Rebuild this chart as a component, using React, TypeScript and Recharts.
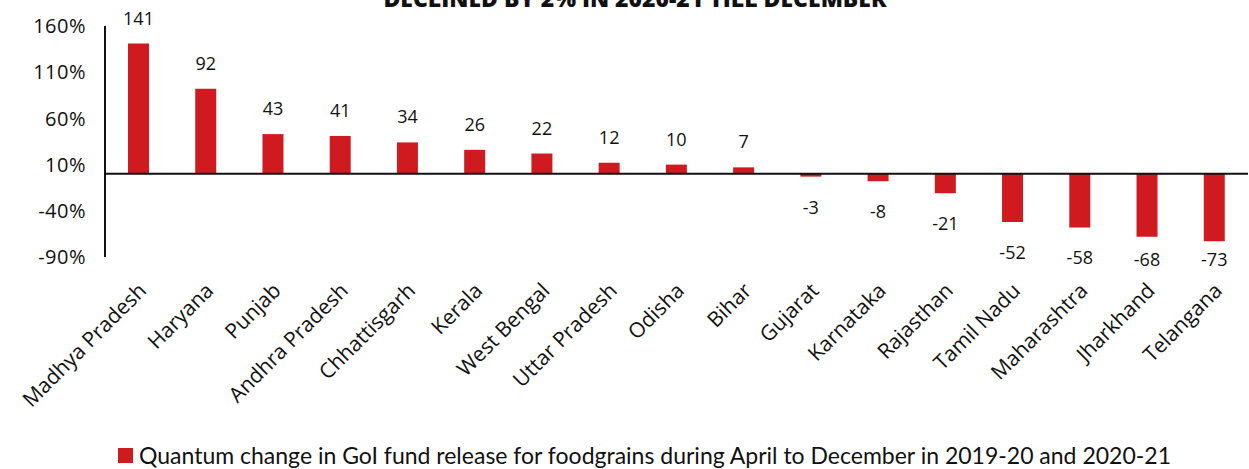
import React from 'react';
import { BarChart, Bar, XAxis, YAxis, ReferenceLine, LabelList } from 'recharts';

const states = [
  'Madhya Pradesh', 'Haryana', 'Punjab', 'Andhra Pradesh', 'Chhattisgarh', 'Kerala',
  'West Bengal', 'Uttar Pradesh', 'Odisha', 'Bihar', 'Gujarat', 'Karnataka',
  'Rajasthan', 'Tamil Nadu', 'Maharashtra', 'Jharkhand', 'Telangana',
];
const change = [141, 92, 43, 41, 34, 26, 22, 12, 10, 7, -3, -8, -21, -52, -58, -68, -73];
const yTicks = [-90, -40, 10, 60, 110, 160];

const title = 'DECLINED BY 2% IN 2020-21 TILL DECEMBER';
const legendText = 'Quantum change in GoI fund release for foodgrains during April to December in 2019-20 and 2020-21';

const RED = '#CF1A20';

const data = states.map((name, i) => ({ name, value: change[i] }));

const StateTick = (props: any) => {
  const { x, y, payload } = props;
  return (
    <text
      transform={`translate(${x + 9},${y + 33}) rotate(-45)`}
      textAnchor="end"
      fontFamily="'Open Sans', sans-serif"
      fontSize={21}
      fill="#111"
    >
      {payload.value}
    </text>
  );
};

// negative labels sit under the bar, but the long ones are pulled up to stay clear of the axis labels
const ValueLabel = (props: any) => {
  const { x, y, width, height, value } = props;
  const top = Math.min(y, y + height);
  const bottom = Math.max(y, y + height);
  const ly = value < 0 ? Math.min(bottom + 30, 259) : top - 26;
  return (
    <text
      x={x + width / 2}
      y={ly}
      textAnchor="middle"
      dominantBaseline="central"
      fontFamily="'Open Sans', sans-serif"
      fontSize={18}
      fill="#111"
    >
      {value}
    </text>
  );
};

export default function App() {
  return (
    <div style={{ position: 'absolute', left: 0, top: 0, width: 1249, height: 469, overflow: 'hidden', background: '#fff' }}>
      <div
        style={{
          position: 'absolute', top: -18, left: 0, width: 1270, textAlign: 'center',
          fontFamily: "'Open Sans', sans-serif", fontWeight: 800, fontSize: 23, color: '#111',
        }}
      >
        {title}
      </div>
      <BarChart width={1249} height={420} data={data} margin={{ top: 26, right: 1, bottom: 0, left: 0 }}>
        <YAxis
          domain={[-90, 160]}
          ticks={yTicks}
          width={105}
          tickFormatter={(v: number) => `${v}%`}
          axisLine={{ stroke: '#111', strokeWidth: 2 }}
          tickLine={false}
          tickSize={0}
          tickMargin={19}
          tick={{ fontFamily: "'Open Sans', sans-serif", fontSize: 20, fill: '#111', letterSpacing: 0.5 }}
          allowDataOverflow
        />
        <XAxis
          dataKey="name"
          interval={0}
          height={163}
          axisLine={false}
          tickLine={false}
          tickSize={0}
          tick={<StateTick />}
        />
        <ReferenceLine y={0} stroke="#111" strokeWidth={2} />
        <Bar dataKey="value" fill={RED} barSize={21} isAnimationActive={false}>
          <LabelList dataKey="value" content={<ValueLabel />} />
        </Bar>
      </BarChart>
      <div
        style={{
          position: 'absolute', top: 440, left: 118, height: 30, display: 'flex', alignItems: 'center',
          fontFamily: "Lato, sans-serif", fontSize: 23, color: '#111', whiteSpace: 'nowrap',
        }}
      >
        <span style={{ display: 'inline-block', width: 15, height: 15, background: RED, marginRight: 6 }} />
        <span>{legendText}</span>
      </div>
    </div>
  );
}
